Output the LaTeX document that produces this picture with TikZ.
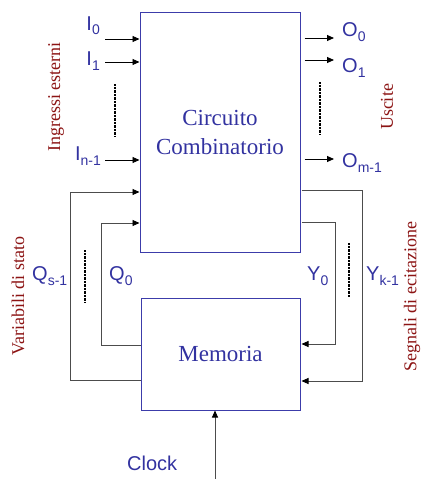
\documentclass[tikz,border=0pt]{standalone}
\usepackage{fontspec}
\setmainfont{Liberation Serif}
\newfontfamily\arialf{Liberation Sans}
\usetikzlibrary{arrows.meta}
\definecolor{txtblue}{RGB}{50,50,160}
\definecolor{boxblue}{RGB}{60,60,170}
\definecolor{darkred}{RGB}{140,20,20}
\newcommand\sig[2]{#1\raisebox{-5pt}{\fontsize{14}{14}\selectfont #2}}
\tikzset{
  blk/.style={draw=boxblue, line width=1pt, rectangle, text=txtblue, align=center,
    font=\fontsize{23}{29}\selectfont, inner sep=0pt},
  sig/.style={text=txtblue, font=\arialf\fontsize{20}{20}\selectfont, inner sep=0pt},
  side/.style={text=darkred, font=\fontsize{18}{18}\selectfont, rotate=90, inner sep=0pt},
  arr/.style={-{Triangle[length=7pt,width=6pt]}, line width=0.9pt, black},
  fb/.style={line width=0.9pt, black!70},
  fbarr/.style={fb, -{Triangle[length=7pt,width=6pt,color=black,fill=black]}},
  dots/.style={line width=1.3pt, dash pattern=on 0.7pt off 0.7pt, black}
}
\begin{document}
\begin{tikzpicture}[x=1pt,y=-1pt]
\useasboundingbox (0,0) rectangle (421,479);
% blocks
\node[blk, minimum width=160pt, minimum height=240pt] (comb) at (220,132) {Circuito\\Combinatorio};
\node[blk, minimum width=159pt, minimum height=112pt] (mem) at (220.5,354) {Memoria};
% input labels
\node[sig, anchor=base east] (i0) at (100,30) {\sig{I}{0}};
\node[sig, anchor=base east] (i1) at (100,65) {\sig{I}{1}};
\node[sig, anchor=base east] (in) at (101,160) {\sig{I}{n-1}};
\coordinate (a0) at (105,39);
\coordinate (a1) at (105,62);
\coordinate (an) at (105,160);
\draw[arr] (a0) -- (a0 -| comb.west);
\draw[arr] (a1) -- (a1 -| comb.west);
\draw[arr] (an) -- (an -| comb.west);
\coordinate (d1a) at (115,84);
\coordinate (d1b) at (115,137);
\draw[dots] (d1a) -- (d1b);
% output labels
\node[sig, anchor=base west] (o0) at (342,36) {\sig{O}{0}};
\node[sig, anchor=base west] (o1) at (342,72) {\sig{O}{1}};
\node[sig, anchor=base west] (om) at (342,167) {\sig{O}{m-1}};
\coordinate (b0) at (334,38);
\coordinate (b1) at (334,60);
\coordinate (bm) at (334,159);
\draw[arr] (b0 -| comb.east) ++(4,0) -- (b0);
\draw[arr] (b1 -| comb.east) ++(4,0) -- (b1);
\draw[arr] (bm -| comb.east) ++(4,0) -- (bm);
\coordinate (d2a) at (320,82);
\coordinate (d2b) at (320,135);
\draw[dots] (d2a) -- (d2b);
% state feedback (left)
\coordinate (qsA) at (70,380);
\coordinate (qsB) at (70,192);
\coordinate (q0A) at (101,345);
\coordinate (q0B) at (101,223);
\draw[fbarr] (mem.west |- qsA) -- (qsA) -- (qsB) -- (comb.west |- qsB);
\draw[fbarr] (mem.west |- q0A) -- (q0A) -- (q0B) -- (comb.west |- q0B);
\coordinate (d3a) at (85,250);
\coordinate (d3b) at (85,303);
\draw[dots] (d3a) -- (d3b);
\node[sig, anchor=base west] (qs) at (32,280) {\sig{Q}{s-1}};
\node[sig, anchor=base west] (q0) at (109,280) {\sig{Q}{0}};
% excitation (right)
\coordinate (ykA) at (362,190);
\coordinate (ykB) at (362,381);
\coordinate (y0A) at (335,222);
\coordinate (y0B) at (335,344);
\draw[fbarr] ([xshift=1pt]comb.east |- ykA) -- (ykA) -- (ykB) -- ([xshift=1pt]mem.east |- ykB);
\draw[fbarr] ([xshift=1pt]comb.east |- y0A) -- (y0A) -- (y0B) -- ([xshift=1pt]mem.east |- y0B);
\coordinate (d4a) at (349,243);
\coordinate (d4b) at (349,297);
\draw[dots] (d4a) -- (d4b);
\node[sig, anchor=base west] (y0) at (307,280) {\sig{Y}{0}};
\node[sig, anchor=base west] (yk) at (366,280) {\sig{Y}{k-1}};
% clock
\coordinate (clk) at (215,479);
\draw[fbarr] (clk) -- (clk |- mem.south);
\node[sig, anchor=base west] (clock) at (127,470) {Clock};
% side labels
\node[side] (ing) at (56,97) {Ingressi esterni};
\node[side] (usc) at (387,107) {Uscite};
\node[side] (var) at (18,296) {Variabili di stato};
\node[side] (seg) at (412,297) {Segnali di ecitazione};
\end{tikzpicture}
\end{document}
